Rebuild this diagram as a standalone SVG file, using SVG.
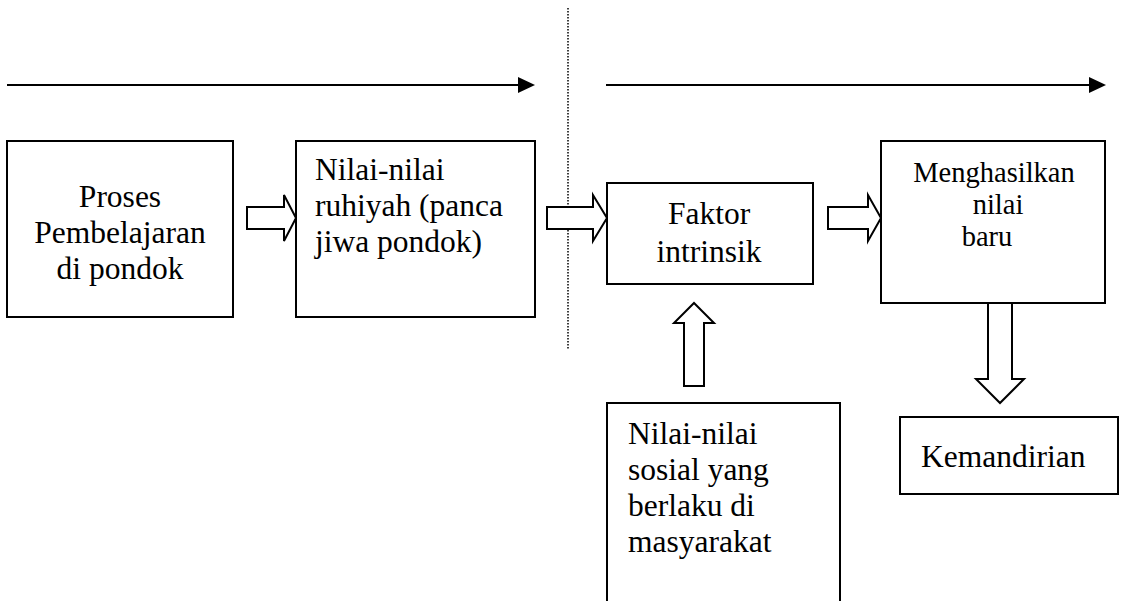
<svg xmlns="http://www.w3.org/2000/svg" width="1121" height="601" viewBox="0 0 1121 601">
<style>
.box{fill:#fff;stroke:#000;stroke-width:2}
.t{font-family:"Liberation Serif","Times New Roman",serif;font-size:31.5px;fill:#000}
.ts{font-family:"Liberation Serif","Times New Roman",serif;font-size:28.5px;fill:#000}
.blk{fill:#fff;stroke:#000;stroke-width:2;stroke-linejoin:miter}
.ln{stroke:#000;stroke-width:2;fill:none}
.dot{stroke:#000;stroke-width:1.5;stroke-dasharray:1.5 1.5;fill:none}
</style>
<rect width="1121" height="601" fill="#fff"/>
<g id="connectors">
<line class="ln" x1="7" y1="85" x2="520" y2="85"/>
<polygon points="518,77 535,85 518,93" fill="#000"/>
<line class="ln" x1="606" y1="85" x2="1091" y2="85"/>
<polygon points="1089,77 1106,85 1089,93" fill="#000"/>
<line class="dot" x1="568" y1="8" x2="568" y2="350"/>
<polygon class="blk" points="247,207 284,207 284,195 296,218 284,241 284,229 247,229"/>
<polygon class="blk" points="547,207 593,207 593,195 607,218 593,241 593,229 547,229"/>
<polygon class="blk" points="828,207 868,207 868,195 881,218 868,241 868,229 828,229"/>
<polygon class="blk" points="684,386 684,323 674,323 694,303 714,323 704,323 704,386"/>
<polygon class="blk" points="988,303 988,379 976,379 1000,403 1024,379 1012,379 1012,303"/>
</g>
<g id="proses">
<rect class="box" x="7" y="141" width="226" height="176"/>
<text class="t" text-anchor="middle" x="120" y="207">Proses</text>
<text class="t" text-anchor="middle" x="120" y="243">Pembelajaran</text>
<text class="t" text-anchor="middle" x="120" y="279">di pondok</text>
</g>
<g id="ruhiyah">
<rect class="box" x="296" y="141" width="239" height="176"/>
<text class="t" x="315" y="180">Nilai-nilai</text>
<text class="t" x="315" y="216">ruhiyah (panca</text>
<text class="t" x="315" y="252">jiwa pondok)</text>
</g>
<g id="faktor">
<rect class="box" x="607" y="183" width="206" height="101"/>
<text class="t" text-anchor="middle" x="709" y="224">Faktor</text>
<text class="t" text-anchor="middle" x="709" y="262">intrinsik</text>
</g>
<g id="menghasilkan">
<rect class="box" x="881" y="141" width="224" height="162"/>
<text class="ts" text-anchor="middle" x="994" y="182">Menghasilkan</text>
<text class="ts" text-anchor="middle" x="998" y="214">nilai</text>
<text class="ts" text-anchor="middle" x="987" y="246">baru</text>
</g>
<g id="kemandirian">
<rect class="box" x="900" y="417" width="218" height="77"/>
<text class="t" x="921" y="467">Kemandirian</text>
</g>
<g id="sosial">
<rect class="box" x="607" y="403" width="233" height="210"/>
<text class="t" x="628" y="444">Nilai-nilai</text>
<text class="t" x="628" y="480">sosial yang</text>
<text class="t" x="628" y="516">berlaku di</text>
<text class="t" x="628" y="552">masyarakat</text>
</g>
</svg>
